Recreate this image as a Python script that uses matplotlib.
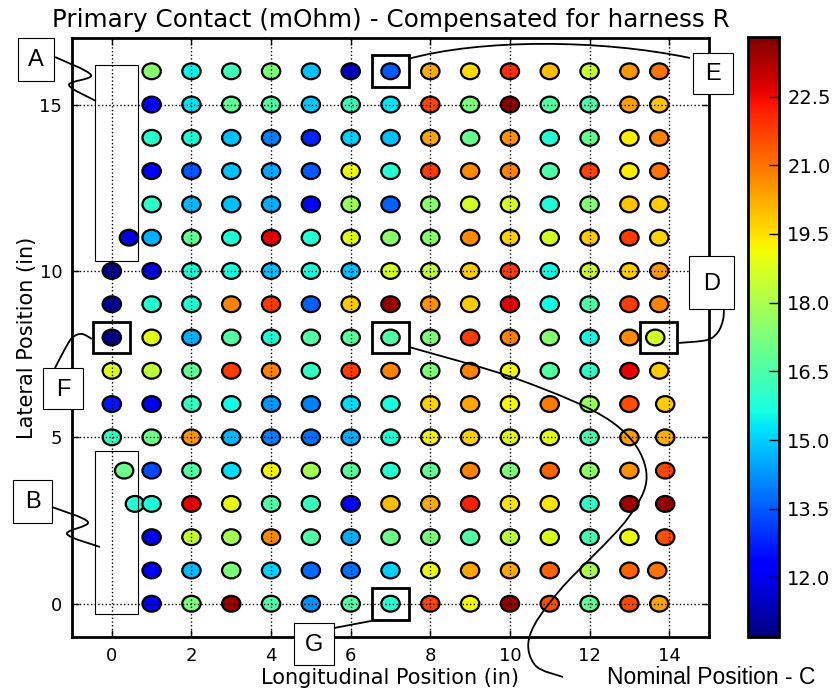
import numpy as np
import matplotlib
matplotlib.use('Agg')
import matplotlib.pyplot as plt
from matplotlib.path import Path
from matplotlib.patches import PathPatch, Rectangle

# lateral rows, top to bottom
lateral_in = [16, 15, 14, 13, 12, 11, 10, 9, 8, 7, 6, 5, 4, 3, 2, 1, 0]
# extra points left of column 1 and the position of the last column in each row
lead_x = [[], [], [], [], [], [0.43], [0], [0], [0], [0], [0], [0], [0.31], [0.58], [], [], []]
last_x = [13.75, 13.75, 13.75, 13.75, 13.75, 13.75, 13.75, 13.75, 13.65, 13.75,
          13.9, 13.9, 13.9, 13.9, 13.9, 13.7, 13.75]
mid_x = list(range(1, 14))

# contact resistance (mOhm), one list per row: lead points, columns 1..13, last column
contact_mohm = [
    [17.5, 15.5, 16.3, 17.3, 14.8, 11.5, 13.5, 20.2, 19.6, 22.0, 20.0, 18.4, 20.5, 21.0],
    [12.3, 15.3, 16.8, 16.5, 14.9, 16.2, 15.3, 21.6, 17.2, 23.6, 16.6, 16.5, 20.4, 19.9],
    [16.0, 15.8, 14.8, 14.0, 12.8, 15.0, 14.8, 20.3, 16.9, 20.6, 15.9, 16.9, 19.3, 20.8],
    [12.3, 13.5, 14.8, 14.5, 13.5, 19.0, 15.9, 21.8, 20.7, 20.8, 16.5, 21.7, 19.3, 21.0],
    [16.0, 14.7, 14.8, 14.6, 12.4, 17.8, 13.6, 17.5, 18.6, 18.7, 15.8, 17.4, 19.9, 19.8],
    [11.8, 14.6, 16.8, 15.8, 22.6, 15.9, 18.9, 17.5, 17.5, 20.7, 19.7, 18.6, 19.8, 21.8, 19.7],
    [11.0, 11.8, 15.8, 15.7, 14.8, 15.7, 14.8, 18.6, 18.4, 19.8, 21.8, 15.6, 18.5, 19.8, 20.5],
    [11.0, 15.9, 15.8, 20.8, 21.8, 13.6, 19.8, 23.5, 20.6, 19.8, 22.6, 15.6, 16.5, 21.8, 20.8],
    [10.9, 18.9, 14.6, 16.6, 15.8, 16.6, 16.7, 16.6, 17.3, 21.8, 20.8, 17.5, 15.6, 20.7, 18.6],
    [18.8, 18.3, 16.8, 21.8, 20.8, 16.1, 21.8, 20.8, 17.3, 20.8, 19.1, 16.6, 16.0, 22.6, 19.8],
    [12.6, 12.0, 16.1, 15.6, 14.3, 14.0, 15.2, 15.7, 19.7, 20.3, 19.1, 20.9, 17.7, 21.5, 19.8],
    [16.1, 17.0, 20.5, 14.7, 14.0, 13.8, 14.6, 15.8, 19.2, 19.7, 18.9, 18.9, 16.4, 20.4, 20.2],
    [17.0, 13.3, 16.6, 15.2, 19.2, 17.9, 16.7, 15.9, 16.8, 20.8, 17.3, 21.2, 17.6, 20.6, 21.6],
    [15.9, 15.8, 22.6, 18.9, 16.5, 16.2, 12.2, 20.0, 20.2, 22.2, 19.4, 19.4, 16.0, 23.4, 23.5],
    [11.9, 18.4, 17.9, 20.7, 16.6, 14.6, 17.0, 17.2, 16.6, 18.3, 18.8, 16.4, 19.0, 21.5],
    [12.0, 14.7, 17.3, 15.0, 13.7, 13.8, 15.0, 19.0, 20.3, 20.3, 21.2, 18.0, 21.2, 21.0],
    [12.3, 17.2, 23.5, 16.5, 14.2, 16.6, 15.9, 21.7, 19.1, 23.5, 21.5, 16.8, 21.6, 20.4],
]

# highlighted measurement points (data coords)
marked = {'E': (7, 16), 'C': (7, 8), 'F': (0, 8), 'D': (13.74, 8), 'G': (7, 0)}

xs, ys, vs = [], [], []
for y, lead, last, vals in zip(lateral_in, lead_x, last_x, contact_mohm):
    row_x = lead + mid_x + [last]
    xs += row_x
    ys += [y] * len(row_x)
    vs += vals


def smooth_path(pts):
    # catmull-rom through the given pixel points
    pts = np.asarray(pts, float)
    p = np.vstack([pts[0], pts, pts[-1]])
    verts = [pts[0]]
    codes = [Path.MOVETO]
    for i in range(1, len(p) - 2):
        c1 = p[i] + (p[i + 1] - p[i - 1]) / 6
        c2 = p[i + 1] - (p[i + 2] - p[i]) / 6
        verts += [c1, c2, p[i + 1]]
        codes += [Path.CURVE4] * 3
    return Path(verts, codes)


W, H = 833, 692
fig = plt.figure(figsize=(W / 100, H / 100), dpi=100)
ax = fig.add_axes([72 / W, 1 - 637 / H, 637 / W, 599 / H])
cax = fig.add_axes([748 / W, 1 - 637 / H, 31 / W, 600 / H])

circ = Path.unit_circle()
ell = Path(circ.vertices * [1.0, 0.86], circ.codes)

sc = ax.scatter(xs, ys, c=vs, cmap='jet', vmin=10.7, vmax=23.8, marker=ell,
                s=175, edgecolors='k', linewidths=1.6, zorder=1)
ax.set_axisbelow(False)
ax.grid(True, color='k', linestyle=':', linewidth=1.0)
ax.set_xlim(-1, 15)
ax.set_ylim(-1, 17)
ax.set_xticks(range(0, 15, 2))
ax.set_yticks([0, 5, 10, 15])
ax.tick_params(direction='in', length=5, width=1, top=True, right=True,
               labelsize=13, pad=7)
for sp in ax.spines.values():
    sp.set_linewidth(2)
ax.set_title('Primary Contact (mOhm) - Compensated for harness R', fontsize=17.7, pad=8)
ax.set_xlabel('Longitudinal Position (in)', fontsize=15, labelpad=2)
ax.set_ylabel('Lateral Position (in)', fontsize=15, labelpad=2)

cb = fig.colorbar(sc, cax=cax, ticks=np.arange(12, 23, 1.5), format='%.1f')
cb.outline.set_linewidth(2)
cax.tick_params(direction='in', length=7, width=1, labelsize=14, pad=6)

# boxes round the marked points
for name, (px, py) in marked.items():
    ax.add_patch(Rectangle((px - 0.465, py - 0.48), 0.93, 0.96, fill=False,
                           ec='k', lw=2, zorder=4))
# tall outline boxes for A and B
ax.add_patch(Rectangle((-0.41, 10.31), 1.08, 5.88, fill=False, ec='k', lw=0.8, zorder=4))
ax.add_patch(Rectangle((-0.41, -0.32), 1.08, 4.92, fill=False, ec='k', lw=0.8, zorder=4))

# overlay in pixel coords for the callouts
ov = fig.add_axes([0, 0, 1, 1])
ov.set_xlim(0, W)
ov.set_ylim(H, 0)
ov.axis('off')
ov.patch.set_alpha(0)

labels = {'A': (18, 38, 36, 43), 'B': (13, 480, 39, 43), 'F': (43, 368, 40, 41),
          'D': (689, 256, 45, 53), 'E': (693, 53, 40, 41), 'G': (294, 623, 40, 42)}
for txt, (x0, y0, w, h) in labels.items():
    ov.add_patch(Rectangle((x0, y0), w, h, fc='white', ec='k', lw=0.8))
    ov.text(x0 + w / 2, y0 + h / 2 + 1, txt, ha='center', va='center',
            fontsize=17, family='Liberation Sans')

curves = [
    [(55, 57), (91, 75), (69, 85), (96, 101)],
    [(52, 507), (88, 522), (67, 534), (100, 547)],
    [(55, 368), (66, 347), (73, 337), (82, 334), (92, 339)],
    [(724, 309), (723, 320), (718, 332), (707, 340), (678, 343)],
    [(334, 628), (371, 621)],
    [(409, 347), (520, 380), (612, 422), (646, 470), (628, 518),
     (560, 590), (530, 635), (535, 665), (563, 677)],
]
for pts in curves:
    ov.add_patch(PathPatch(smooth_path(pts), fill=False, ec='k', lw=1.3))

# arc from E over the top of the plot
arc_e = Path([(408, 59), (480, 39), (600, 39), (690, 58)],
             [Path.MOVETO, Path.CURVE4, Path.CURVE4, Path.CURVE4])
ov.add_patch(PathPatch(arc_e, fill=False, ec='k', lw=1.3))

ov.text(607, 677, 'Nominal Position - C', ha='left', va='center', fontsize=16.5,
        family='Liberation Sans')

fig.savefig('out.png', dpi=100)
